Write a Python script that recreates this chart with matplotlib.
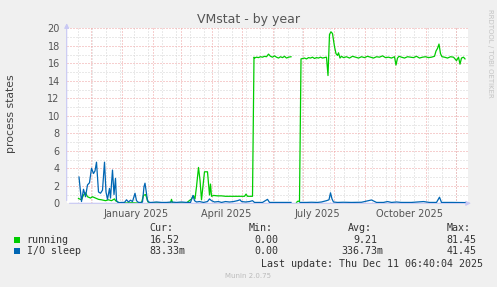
import datetime as dt
import numpy as np
import matplotlib
matplotlib.use("Agg")
import matplotlib.pyplot as plt
import matplotlib.dates as mdates
from matplotlib.patches import Rectangle

# data: day offsets from 2025-01-01, value (process count)
base = dt.datetime(2025, 1, 1)
nan = float("nan")

run_day = [-43, -40, -38, -36, -34, -31, -29, -26, -23, -20, -16, -13, -10, -7, -6, -3, 0,
           5, 10, 15, 20, 22, 24, 25, 26, 27, 32, 40, 49, 50, 51, 58, 65, 70,
           72, 73.5, 75, 77, 78.5, 80, 82, 83, 86, 88, 89, 90, 92, 96, 100, 104, 108,
           112, 116, 120, 123, 124.5, 126, 131, 132.5,
           133, 135, 137, 139, 141, 143, 145, 147, 149, 151, 153, 155, 157, 159, 161, 163,
           165, 167, 169.5, 172,
           175, 176.5, 178, 179.5, 181, 183, 185, 187, 189, 191, 193, 195, 197, 199, 201,
           203, 205, 206.5, 208, 209.5, 211, 213, 214.5, 216, 217, 218.5, 220, 222,
           225, 228, 231, 234, 237, 240, 243, 246, 249, 252, 255, 258, 261, 264, 267,
           270, 273, 274.5, 276, 277.5, 280, 283, 286, 289, 292, 295, 298, 301, 304,
           307, 310, 313, 314.5, 316, 317.5, 319, 320.5, 323, 326, 329, 332, 335, 337,
           338.5, 340, 342, 343.5]
run_val = [0.55, 0.4, 0.95, 1.2, 0.75, 0.6, 0.75, 0.6, 0.45, 0.4, 0.3, 0.4, 0.3, 0.5, 0.3, 0.1, 0.05,
           0.05, 0.08, 0.05, 0.05, 0.9, 1.0, 0.7, 0.3, 0.05, 0.05, 0.05, 0.05, 0.45, 0.05, 0.05, 0.05, 0.5,
           0.87, 0.5, 1.9, 4.1, 2.65, 0.4, 2.6, 3.6, 3.6, 0.95, 2.2, 0.8, 0.9, 0.85, 0.85, 0.8, 0.8,
           0.8, 0.8, 0.8, 0.8, 1.05, 0.8, 0.8, 16.7,
           16.6, 16.7, 16.65, 16.75, 16.7, 16.8, 16.75, 17.05, 16.8, 16.7, 16.85, 16.7, 16.6, 16.75, 16.65, 16.8,
           16.6, 16.7, 16.75, nan,
           0.1, 0.25, 0.2, 16.5, 16.55, 16.6, 16.5, 16.65, 16.6, 16.7, 16.55, 16.65, 16.6, 16.7, 16.6,
           16.65, 16.7, 14.6, 19.3, 19.6, 19.4, 17.9, 17.1, 16.9, 17.2, 16.6, 16.8, 16.65,
           16.75, 16.6, 16.8, 16.7, 16.6, 16.75, 16.65, 16.8, 16.7, 16.6, 16.75, 16.7, 16.85, 16.65, 16.7,
           16.6, 16.75, 15.8, 16.6, 16.8, 16.7, 16.6, 16.75, 16.7, 16.65, 16.8, 16.6, 16.7, 16.75,
           16.65, 16.7, 16.8, 17.4, 17.7, 18.2, 17.1, 16.75, 16.7, 16.6, 16.75, 16.7, 16.3, 16.7,
           15.9, 16.6, 16.7, 16.5]

io_day = [-42.5, -40, -38, -36, -34, -32, -30, -28, -26.5, -25, -23, -21, -19, -17, -15.5, -14,
          -12, -11, -9, -7.5, -6, -5, -3, 0, 3, 5, 7, 9, 11, 13.5, 15, 17, 19, 21, 22.5, 23.5,
          24.5, 26, 28, 30, 35, 40, 45, 50, 55, 60, 65, 69, 71.5, 73, 75, 78, 82, 86, 88, 90,
          93, 97, 100, 104, 108, 112, 116, 118.5, 120, 124, 128, 131, 133, 137, 141, 146,
          148, 152, 158, 164, 169.5, 172, 178.5, 185, 190, 196, 200, 205, 207.5, 209, 210.5,
          212, 216, 222, 230, 240, 250, 255, 262, 266, 270, 275, 280, 290, 302, 308, 315,
          318, 320, 330, 343.5]
io_val = [3.0, 0.2, 1.6, 0.75, 2.1, 2.35, 4.0, 3.4, 3.7, 4.7, 1.3, 1.15, 1.5, 4.7, 1.3, 0.45,
          1.7, 0.6, 3.8, 1.0, 2.85, 0.3, 0.07, 0.1, 0.1, 0.4, 0.15, 0.35, 0.2, 1.15, 0.3, 0.1, 0.1, 0.15, 1.9, 2.3,
          1.5, 0.3, 0.1, 0.1, 0.15, 0.1, 0.1, 0.15, 0.1, 0.15, 0.1, 0.1, 0.9, 0.3, 0.15, 0.2, 0.1, 0.2, 0.5, 0.3,
          0.15, 0.2, 0.1, 0.2, 0.15, 0.2, 0.3, 0.4, 0.2, 0.15, 0.2, 0.3, 0.1, 0.1, 0.1, 0.45,
          0.1, 0.1, 0.1, 0.1, 0.1, nan, 0.1, 0.1, 0.12, 0.1, 0.15, 0.3, 0.4, 1.2, 0.5,
          0.15, 0.1, 0.12, 0.1, 0.12, 0.38, 0.1, 0.1, 0.2, 0.1, 0.15, 0.1, 0.1, 0.2, 0.1, 0.1,
          0.7, 0.1, 0.1, 0.083]

x_labels = ["January 2025", "April 2025", "July 2025", "October 2025"]
x_label_dates = ["2025-01-16", "2025-04-16", "2025-07-16", "2025-10-16"]
y_ticks = list(range(0, 21, 2))

legend_names = ["running", "I/O sleep"]
legend_colors = ["#00CC00", "#0066B3"]
legend_cur = ["16.52", "83.33m"]
legend_min = ["0.00", "0.00"]
legend_avg = ["9.21", "336.73m"]
legend_max = ["81.45", "41.45"]

W, H = 497, 287
fig = plt.figure(figsize=(W / 100, H / 100), dpi=100, facecolor="#F0F0F0")


def fx(px):
    return px / W


def fy(py):
    return 1 - py / H


left, right, top, bottom = 66.7, 467.7, 28.3, 203.3
ax = fig.add_axes([fx(left), fy(bottom), fx(right - left), (bottom - top) / H])
ax.set_facecolor("white")

b = mdates.date2num(base)
x0, x1 = b - 54.8, b + 346.2
ax.set_xlim(x0, x1)
ax.set_ylim(0, 20)

# grid, dotted like rrdtool
grid_kw = dict(linestyle=(0, (1, 2)), linewidth=0.72, zorder=1)
for v in range(0, 21):
    if v % 2:
        ax.axhline(v, color="#d4d4d4", **grid_kw)
for d in mdates.date2num(np.arange(np.datetime64("2024-11-04"), np.datetime64("2026-01-01"),
                                   np.timedelta64(14, "D")).astype(dt.datetime)):
    ax.axvline(d, color="#d4d4d4", **grid_kw)
for v in range(0, 21, 2):
    ax.axhline(v, color="#eea0a0", **grid_kw)
months = [dt.datetime(2024, 12, 1)] + [dt.datetime(2025, m, 1) for m in range(1, 13)]
for m in months:
    ax.axvline(mdates.date2num(m), color="#eea0a0", **grid_kw)

ax.plot(b + np.array(run_day), run_val, color=legend_colors[0], lw=0.9, zorder=3)
ax.plot(b + np.array(io_day), io_val, color=legend_colors[1], lw=0.9, zorder=4)

for s in ax.spines.values():
    s.set_visible(False)
ax.set_yticks(y_ticks)
ax.set_xticks(mdates.date2num([dt.datetime.fromisoformat(s) for s in x_label_dates]))
ax.set_xticklabels(x_labels)
ax.tick_params(length=0, labelsize=7, colors="#555555", pad=4)
ax.tick_params(axis="y", pad=5)

axis_col = "#c8c8f4"
ax.annotate("", xy=(0, 1.045), xytext=(0, 0), xycoords="axes fraction",
            arrowprops=dict(arrowstyle="-|>", color=axis_col, lw=0.8, mutation_scale=7))
ax.annotate("", xy=(1.015, 0), xytext=(0, 0), xycoords="axes fraction",
            arrowprops=dict(arrowstyle="-|>", color=axis_col, lw=0.8, mutation_scale=7))

fig.text(fx(248.3), fy(19.5), "VMstat - by year", ha="center", va="center",
         fontsize=9, color="#555555")
fig.text(fx(11), fy(114), "process states", rotation=90, ha="center", va="center",
         fontsize=7.8, color="#444444")
fig.text(fx(490), fy(53), "RRDTOOL / TOBI OETIKER", rotation=270, ha="center", va="center",
         fontsize=5, color="#c4c4c4")

mono = dict(family="DejaVu Sans Mono", fontsize=7.2, color="#333333", va="center")
for label, xp in zip(["Cur:", "Min:", "Avg:", "Max:"], [149.3, 248.3, 347.7, 446.7]):
    fig.text(fx(xp), fy(228.3), label, **mono)
rows_y = [239.7, 251]
for i in range(2):
    y = rows_y[i]
    fig.add_artist(Rectangle((fx(14), fy(y + 3)), fx(6), 6 / H, transform=fig.transFigure,
                             facecolor=legend_colors[i], edgecolor="none"))
    fig.text(fx(26.7), fy(y), legend_names[i], **mono)
    fig.text(fx(149.3), fy(y), legend_cur[i], **mono)
    fig.text(fx(254.3), fy(y), legend_min[i], **mono)
    avg_x = 353.3 if not legend_avg[i].endswith("m") else 341.7
    fig.text(fx(avg_x), fy(y), legend_avg[i], **mono)
    fig.text(fx(446.7), fy(y), legend_max[i], **mono)
fig.text(fx(482.7), fy(263.7), "Last update: Thu Dec 11 06:40:04 2025", ha="right", **mono)
fig.text(fx(247.8), fy(276), "Munin 2.0.75", ha="center", va="center", fontsize=5, color="#bbbbbb")

fig.savefig("out.png", dpi=100, facecolor=fig.get_facecolor())
